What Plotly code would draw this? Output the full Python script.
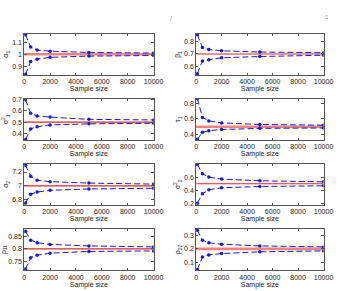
import plotly.graph_objects as go

W, H = 349, 291
sample_sizes = [100, 500, 1000, 2000, 5000, 10000]
x_ticks = [0, 2000, 4000, 6000, 8000, 10000]

labels = ["α<sub>1</sub>", "β<sub>1</sub>", "σ<sup>2</sup><sub>1</sub>", "τ<sub>1</sub>",
          "α<sub>2</sub>", "σ<sup>2</sup><sub>2</sub>", "ρ<sub>11</sub>", "ρ<sub>22</sub>"]
true_vals = [1.0, 0.7, 0.5, 0.5, 7.0, 0.5, 0.8, 0.2]
upper = [
    [1.16, 1.06, 1.035, 1.025, 1.015, 1.01],
    [0.85, 0.75, 0.735, 0.725, 0.715, 0.71],
    [0.70, 0.58, 0.555, 0.545, 0.525, 0.52],
    [0.86, 0.62, 0.575, 0.55, 0.53, 0.52],
    [7.30, 7.14, 7.08, 7.06, 7.04, 7.025],
    [0.79, 0.65, 0.60, 0.57, 0.545, 0.53],
    [0.87, 0.835, 0.825, 0.818, 0.812, 0.808],
    [0.34, 0.265, 0.245, 0.235, 0.222, 0.215],
]
lower = [
    [0.835, 0.94, 0.96, 0.975, 0.985, 0.99],
    [0.545, 0.645, 0.655, 0.67, 0.68, 0.69],
    [0.345, 0.44, 0.46, 0.475, 0.485, 0.49],
    [0.34, 0.43, 0.45, 0.465, 0.48, 0.485],
    [6.75, 6.88, 6.91, 6.935, 6.955, 6.965],
    [0.21, 0.35, 0.41, 0.44, 0.46, 0.47],
    [0.72, 0.765, 0.775, 0.783, 0.79, 0.792],
    [0.045, 0.14, 0.155, 0.165, 0.178, 0.185],
]
y_ranges = [[0.83, 1.17], [0.535, 0.86], [0.34, 0.71], [0.33, 0.86],
            [6.72, 7.32], [0.18, 0.80], [0.715, 0.88], [0.04, 0.35]]
y_ticks = [[0.9, 1, 1.1], [0.6, 0.7, 0.8], [0.4, 0.5, 0.6, 0.7], [0.4, 0.6, 0.8],
           [6.8, 7, 7.2], [0.2, 0.4, 0.6], [0.75, 0.8, 0.85], [0.1, 0.2, 0.3]]
y_ticktext = [["0.9", "1", "1.1"], ["0.6", "0.7", "0.8"], ["0.4", "0.5", "0.6", "0.7"],
              ["0.4", "0.6", "0.8"], ["6.8", "7", "7.2"], ["0.2", "0.4", "0.6"],
              ["0.75", "0.8", "0.85"], ["0.1", "0.2", "0.3"]]
pink = [True, False, False, True, False, False, False, True]

col_px = [(23, 157), (201, 333)]
row_tops = [32, 98, 164, 230]
row_h = 42

fig = go.Figure()
font = dict(family="Liberation Sans, Arial, sans-serif", size=7, color="#222")
blue = "rgb(25,25,205)"

for i in range(8):
    r, c = divmod(i, 2)
    n = i + 1
    xa = "x" if n == 1 else f"x{n}"
    ya = "y" if n == 1 else f"y{n}"
    # true value line
    fig.add_trace(go.Scatter(
        x=[0, 10000], y=[true_vals[i]] * 2, mode="lines",
        line=dict(color="rgb(245,130,130)" if pink[i] else "rgb(220,40,40)",
                  width=2.6 if pink[i] else 1.1),
        xaxis=xa, yaxis=ya, showlegend=False, hoverinfo="skip"))
    for series in (upper[i], lower[i]):
        fig.add_trace(go.Scatter(
            x=sample_sizes, y=series, mode="lines+markers",
            line=dict(color=blue, width=1, dash="6px,3px"),
            marker=dict(color=blue, size=3.5),
            xaxis=xa, yaxis=ya, showlegend=False, cliponaxis=True))
    x0, x1 = col_px[c]
    top = row_tops[r]
    bot = top + row_h
    common = dict(showline=True, mirror="ticks", linecolor="#555", linewidth=0.8,
                  ticks="inside", ticklen=2.5, tickcolor="#555", showgrid=False,
                  zeroline=False, tickfont=font)
    fig.layout[f"xaxis{'' if n == 1 else n}"] = dict(
        domain=[x0 / W, x1 / W], anchor=ya, range=[0, 10000],
        tickvals=x_ticks, ticktext=[str(t) for t in x_ticks],
        title=dict(text="Sample size", font=font, standoff=1), **common)
    fig.layout[f"yaxis{'' if n == 1 else n}"] = dict(
        domain=[1 - bot / H, 1 - top / H], anchor=xa, range=y_ranges[i],
        tickvals=y_ticks[i], ticktext=y_ticktext[i],
        title=dict(text=labels[i], font=font, standoff=2), **common)

fig.add_annotation(x=175 / W, y=1 - 11 / H, xref="paper", yref="paper", text="/",
                   showarrow=False, font=dict(family="Liberation Sans", size=7, color="#999"))
fig.add_annotation(x=341 / W, y=1 - 10 / H, xref="paper", yref="paper", text="1",
                   showarrow=False, font=dict(family="Liberation Sans", size=6, color="#999"))

fig.update_layout(width=W, height=H, margin=dict(l=0, r=0, t=0, b=0),
                  paper_bgcolor="white", plot_bgcolor="white", font=font)
fig.write_html("out.html")
